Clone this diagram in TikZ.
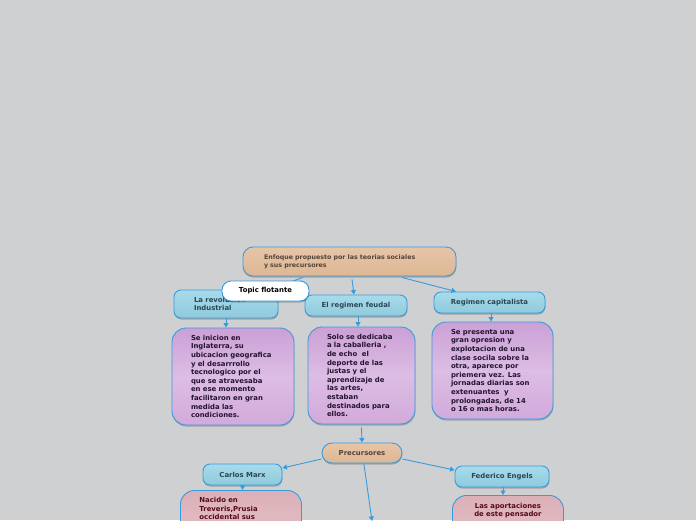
\documentclass[tikz,border=0pt]{standalone}
\usepackage{fontspec}
\usetikzlibrary{arrows.meta,shadows}
\newfontfamily\dvs{DejaVu Sans}
\definecolor{bg}{HTML}{CFD0D2}
\definecolor{lineblue}{HTML}{3A9BDC}
\definecolor{tanT}{HTML}{E6C5A8}
\definecolor{tanB}{HTML}{DDB795}
\definecolor{tantext}{HTML}{54443A}
\definecolor{blueT}{HTML}{A8DBEA}
\definecolor{blueB}{HTML}{8FCADC}
\definecolor{bluetext}{HTML}{2A4656}
\definecolor{purT}{HTML}{CBA0D6}
\definecolor{purM}{HTML}{DCBDE4}
\definecolor{purB}{HTML}{D2AADB}
\definecolor{purtext}{HTML}{24132F}
\definecolor{pinkT}{HTML}{DCB0B8}
\definecolor{pinkB}{HTML}{E8C9CD}
\definecolor{pinktext}{HTML}{55091C}
\tikzset{
  base/.style={draw=lineblue, line width=0.9pt,
    font={\dvs\bfseries\fontsize{6.9pt}{8.6pt}\selectfont},
    drop shadow={shadow xshift=0.3pt, shadow yshift=-1.5pt, opacity=0.22, fill=black}},
  tanbox/.style={base, rounded corners=10pt, top color=tanT, bottom color=tanB, text=tantext},
  bluebox/.style={base, rounded corners=7pt, top color=blueT, bottom color=blueB, text=bluetext},
  purbox/.style={base, rounded corners=14pt, top color=purT, bottom color=purB, middle color=purM, text=purtext},
  pinkbox/.style={base, rounded corners=14pt, top color=pinkT, bottom color=pinkB, text=pinktext},
  floatbox/.style={base, rounded corners=9pt, fill=white, text=black},
  link/.style={draw=lineblue, line width=0.9pt, -{Triangle[length=4.5pt,width=5pt]}},
}
\begin{document}
\begin{tikzpicture}[x=1pt,y=-1pt]
\fill[bg] (0,0) rectangle (696,520);
\useasboundingbox (0,0) rectangle (696,520);
\clip (0,0) rectangle (696,520);

% level 0
\node[tanbox, minimum width=213pt, minimum height=29pt, inner xsep=21pt, inner ysep=0pt, text width=171pt, align=left,
      font={\dvs\bfseries\fontsize{6.3pt}{8pt}\selectfont}]
  (root) at (349.5,261.5) {Enfoque propuesto por las teorias sociales\\y sus precursores};

% level 1
\node[bluebox, minimum width=104pt, minimum height=28pt, inner xsep=20pt, inner ysep=0pt, text width=64pt, align=left]
  (revol) at (226,304) {La revolucion\\Industrial};
\node[bluebox, minimum width=102pt, minimum height=21pt, inner sep=0pt, align=center]
  (feudal) at (356,305.5) {El regimen feudal};
\node[bluebox, minimum width=111pt, minimum height=21pt, inner sep=0pt, align=center]
  (capital) at (489.5,302.5) {Regimen capitalista};

% level 2
\node[purbox, minimum height=97pt, inner xsep=19pt, inner ysep=0pt, text width=84pt, align=left]
  (p1) at (233,376.5) {Se inicion en\\Inglaterra, su\\ubicacion geografica\\y el desarrrollo\\tecnologico por el\\que se atravesaba\\en ese momento\\facilitaron en gran\\medida las\\condiciones.};
\node[purbox, minimum height=97pt, inner xsep=19pt, inner ysep=0pt, text width=69pt, align=left]
  (p2) at (361.5,375.5) {Solo se dedicaba\\a la caballeria ,\\de echo\ \ el\\deporte de las\\justas y el\\aprendizaje de\\las artes,\\estaban\\destinados para\\ellos.};
\node[purbox, minimum height=97pt, inner xsep=19pt, inner ysep=0pt, text width=83pt, align=left]
  (p3) at (492.5,370.5) {Se presenta una\\gran opresion y\\explotacion de una\\clase socila sobre la\\otra, aparece por\\priemera vez. Las\\jornadas diarias son\\extenuantes\ \ y\\prolongadas, de 14\\o 16 o mas horas.};

% precursores
\node[tanbox, minimum width=80pt, minimum height=20pt, inner sep=0pt, align=center]
  (prec) at (362,453) {Precursores};
\node[bluebox, minimum width=79pt, minimum height=21pt, inner sep=0pt, align=center]
  (marx) at (242.5,474.5) {Carlos Marx};
\node[bluebox, minimum width=94pt, minimum height=21pt, inner sep=0pt, align=center]
  (engels) at (502,476.5) {Federico Engels};
\node[pinkbox, anchor=north west, inner xsep=19pt, inner ysep=7pt, text width=83pt, text depth=60pt, align=left]
  (pk1) at (180,490) {Nacido en\\Treveris,Prusia\\occidental sus};
\node[pinkbox, anchor=north west, inner xsep=10pt, inner ysep=7.5pt, text width=91pt, text depth=60pt, align=center]
  (pk2) at (452,495) {Las aportaciones\\de este pensador};
\coordinate (hid) at (372,521);

% connectors
\draw[link] ([xshift=-46.5pt,yshift=-1pt]root.south) -- ([xshift=43pt]revol.north);
\draw[link] ([xshift=2.5pt,yshift=-3pt]root.south) -- ([xshift=-2pt]feudal.north);
\draw[link] ([xshift=52.5pt,yshift=-1pt]root.south) -- ([xshift=-33.5pt]capital.north);
\draw[link] (revol.south) -- (revol.south |- p1.north);
\draw[link] ([xshift=2pt]feudal.south) -- ([xshift=2pt]feudal.south |- p2.north);
\draw[link] ([xshift=1.5pt]capital.south) -- ([xshift=1.5pt]capital.south |- p3.north);
\draw[link] ([yshift=-3pt]p2.south) -- (prec.north);
\draw[link] ([yshift=-6pt]prec.west) -- ([yshift=6.5pt]marx.east);
\draw[link] ([yshift=-6pt]prec.east) -- ([yshift=6.5pt]engels.west);
\draw[link] ([xshift=2pt,yshift=-1pt]prec.south) -- (hid);
\draw[link] (marx.south) -- (marx.south |- pk1.north);
\draw[link] ([xshift=1pt]engels.south) -- ([xshift=1pt]engels.south |- pk2.north);

% floating topic (on top)
\node[floatbox, minimum width=87pt, minimum height=20pt, inner sep=0pt, align=center]
  (topic) at (265.5,291) {Topic flotante};
\end{tikzpicture}
\end{document}
